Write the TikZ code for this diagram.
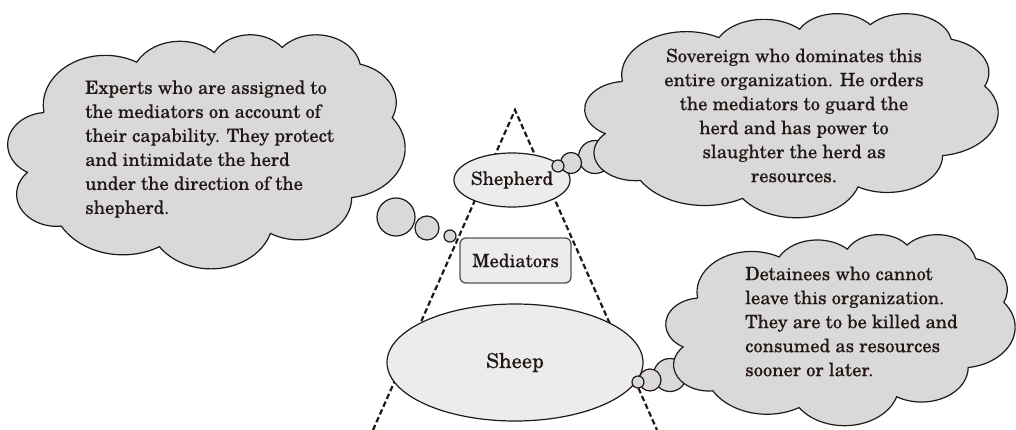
\documentclass[tikz,border=0pt]{standalone}
\usepackage{fontspec}
\setmainfont{TeX Gyre Schola}[FakeBold=0.2]
\usetikzlibrary{shapes.geometric}
\definecolor{ink}{RGB}{35,24,21}
\definecolor{cloudfill}{RGB}{217,217,217}
\definecolor{nodefill}{RGB}{236,236,236}
\definecolor{boxline}{RGB}{85,85,85}
\tikzset{
  ooarc/.style n args={4}{insert path={arc[start angle={atan2((#1)*sin(#3),(#2)*cos(#3))},
     delta angle={mod(atan2((#1)*sin((#3)+(#4)),(#2)*cos((#3)+(#4)))-atan2((#1)*sin(#3),(#2)*cos(#3))+720,360)},
     x radius=#1, y radius=#2]}},
  cloudarcs/.style={insert path={
     [ooarc={6.753}{9.190}{-190.4875}{123.7805}]
     [ooarc={5.333}{7.267}{-144.1024}{89.9452}]
     [ooarc={4.365}{5.945}{-145.8079}{99.7230}]
     [ooarc={4.857}{6.595}{-130.9861}{117.2417}]
     [ooarc={5.333}{7.273}{-78.7089}{109.0269}]
     [ooarc={6.775}{9.220}{-46.2673}{130.2690}]
     [ooarc={5.785}{7.867}{0.6250}{114.0333}]
     [ooarc={6.752}{9.215}{22.4516}{115.1726}]
     [ooarc={7.720}{10.543}{66.2426}{75.7110}]
     [ooarc={4.360}{5.918}{-274.9421}{146.7356}]
     [ooarc={4.345}{5.945}{-246.8285}{152.5189}]
     -- cycle}},
  cloudsty/.style={draw=ink, fill=cloudfill, line width=1.2pt},
  bubble/.style={circle, draw=ink, fill=cloudfill, line width=1.2pt, inner sep=0pt},
  ellnode/.style={ellipse, draw=ink, fill=nodefill, line width=1.2pt, inner sep=0pt, text=ink},
  boxnode/.style={rectangle, rounded corners=6pt, draw=boxline, fill=nodefill, line width=1.3pt, inner sep=0pt, text=ink},
  dashline/.style={draw=ink, line width=2.2pt, dash pattern=on 5.5pt off 3pt},
  cloudtext/.style={inner sep=0pt, text=ink, font=\fontsize{18.5}{24}\selectfont},
}
\begin{document}
\begin{tikzpicture}[x=1pt, y=-1pt]
\useasboundingbox[fill=white] (0,0) rectangle (1016,430);
% pyramid dashed lines
\coordinate (apex) at (515,110);
\coordinate (bl) at (373,430);
\coordinate (br) at (657,430);
\draw[dashline] (bl) -- (apex) -- (br);
% nodes
\node[ellnode, minimum width=106pt, minimum height=54pt, font=\fontsize{18.5}{22}\selectfont] (shepherd) at (512,180) {Shepherd};
\node[boxnode, minimum width=111pt, minimum height=45pt, font=\fontsize{18.5}{22}\selectfont] (mediators) at (515.5,260.5) {Mediators};
\node[ellnode, minimum width=256pt, minimum height=117pt, font=\fontsize{20.5}{24}\selectfont] (sheep) at (515,362.5) {Sheep};
% thought bubbles
\node[bubble, minimum size=38pt] (lb1) at (396,217) {};
\node[bubble, minimum size=24pt] (lb2) at (427,228) {};
\node[bubble, minimum size=12pt] (lb3) at (450,236) {};
\node[bubble, minimum size=33pt] (rb1) at (595,157) {};
\node[bubble, minimum size=21pt] (rb2) at (571,163) {};
\node[bubble, minimum size=12pt] (rb3) at (558,166) {};
\node[bubble, minimum size=33pt] (sb1) at (670,375) {};
\node[bubble, minimum size=22pt] (sb2) at (650,380) {};
\node[bubble, minimum size=12pt] (sb3) at (638,382) {};
% clouds
\begin{scope}[shift={(8,34)}, x=9.1898pt, y=-5.4167pt]
  \path[cloudsty] (3.9,14.37) [cloudarcs];
\end{scope}
\begin{scope}[shift={(585,13)}, x=9.5602pt, y=-4.7222pt]
  \path[cloudsty] (3.9,14.37) [cloudarcs];
\end{scope}
\begin{scope}[shift={(666,234)}, x=8.0787pt, y=-4.4213pt]
  \path[cloudsty] (3.9,14.37) [cloudarcs];
\end{scope}
% cloud texts
\node[cloudtext, anchor=west, align=left] (experts) at (85,149)
  {Experts who are assigned to\\the mediators on account of\\their capability. They protect\\and intimidate the herd\\under the direction of the\\shepherd.};
\node[cloudtext, align=center] (sovereign) at (794,115.5)
  {Sovereign who dominates this\\entire organization. He orders\\the mediators to guard the\\herd and has power to\\slaughter the herd as\\resources.};
\node[cloudtext, anchor=west, align=left] (detainees) at (745,321.5)
  {Detainees who cannot\\leave this organization.\\They are to be killed and\\consumed as resources\\sooner or later.};
\end{tikzpicture}
\end{document}
